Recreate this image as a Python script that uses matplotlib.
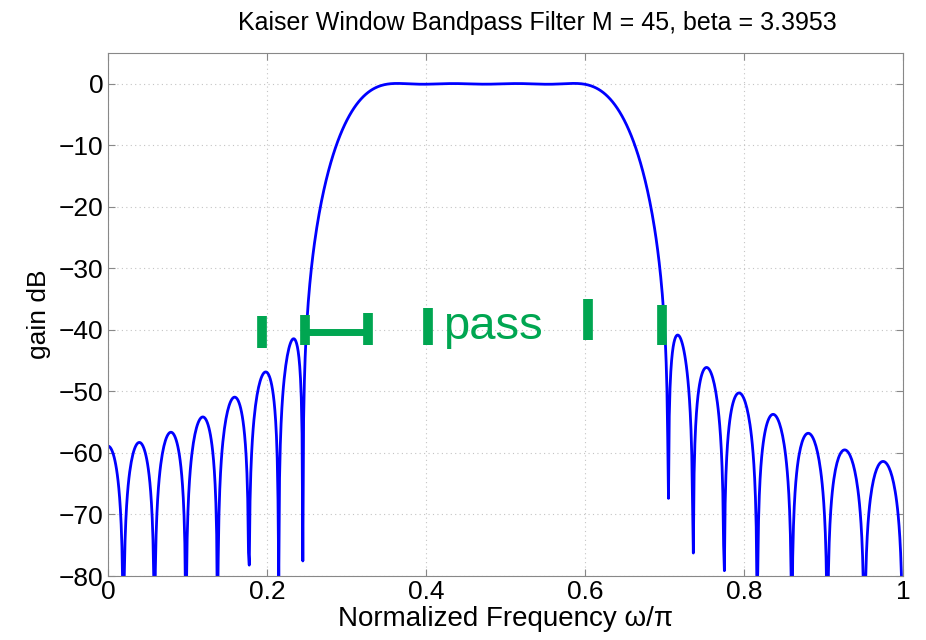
import numpy as np
import matplotlib.pyplot as plt

# filter spec (from the title)
M = 45
beta = 3.3953
wc1 = 0.30   # lower cutoff, units of pi
wc2 = 0.65   # upper cutoff, units of pi
n_freq = 1024

# green hand-drawn marks (x in w/pi, y in dB)
mark_x = [0.194, 0.248, 0.327, 0.403, 0.604, 0.697]
mark_lo = [-43.0, -42.5, -42.5, -42.5, -41.7, -42.5]
mark_hi = [-37.7, -37.5, -37.2, -36.5, -35.0, -36.0]
bracket_x = [0.248, 0.327]
bracket_y = -40.4
pass_label = "pass"
pass_x = 0.421
pass_y = -39.5

# windowed ideal bandpass
n = np.arange(M + 1)
alpha = M / 2.0
t = n - alpha
hd = (np.sin(wc2 * np.pi * t) - np.sin(wc1 * np.pi * t)) / (np.pi * t)
h = hd * np.kaiser(M + 1, beta)

w = np.arange(n_freq + 1) / n_freq
H = np.array([np.sum(h * np.exp(-1j * np.pi * wk * n)) for wk in w])
gain = 20 * np.log10(np.abs(H) + 1e-12)

plt.rcParams['font.family'] = ['Liberation Sans', 'DejaVu Sans']
fig = plt.figure(figsize=(9.26, 6.4), dpi=100)
ax = fig.add_axes([0.1166, 0.1, 0.8585, 0.817])

ax.plot(w, gain, color='#0000ff', linewidth=2)

green = '#00a651'
for x, lo, hi in zip(mark_x, mark_lo, mark_hi):
    ax.plot([x, x], [lo, hi], color=green, linewidth=7, solid_capstyle='butt')
ax.plot(bracket_x, [bracket_y, bracket_y], color=green, linewidth=5)
ax.text(pass_x, pass_y, pass_label, color=green, fontsize=34, ha='left', va='center')

ax.set_xlim(0, 1)
ax.set_ylim(-80, 5)
ax.set_xticks([0, 0.2, 0.4, 0.6, 0.8, 1])
ax.set_xticklabels(['0', '0.2', '0.4', '0.6', '0.8', '1'])
ax.set_yticks(np.arange(-80, 1, 10))
ax.set_yticklabels(['\u221280', '\u221270', '\u221260', '\u221250', '\u221240',
                    '\u221230', '\u221220', '\u221210', '0'])
ax.grid(True, linestyle=(0, (1, 3)), color='#c4c4c4', linewidth=0.8)
ax.tick_params(direction='in', top=True, right=True, labelsize=19, length=5,
               color='#888888', pad=3)
for s in ax.spines.values():
    s.set_color('#888888')

ax.set_title('Kaiser Window Bandpass Filter M = 45, beta = 3.3953', fontsize=18,
             pad=17, x=0.54)
ax.set_xlabel('Normalized Frequency \u03c9/\u03c0', fontsize=20, labelpad=1)
ax.set_ylabel('gain dB', fontsize=19, labelpad=6)

fig.savefig('out.png', dpi=100)
